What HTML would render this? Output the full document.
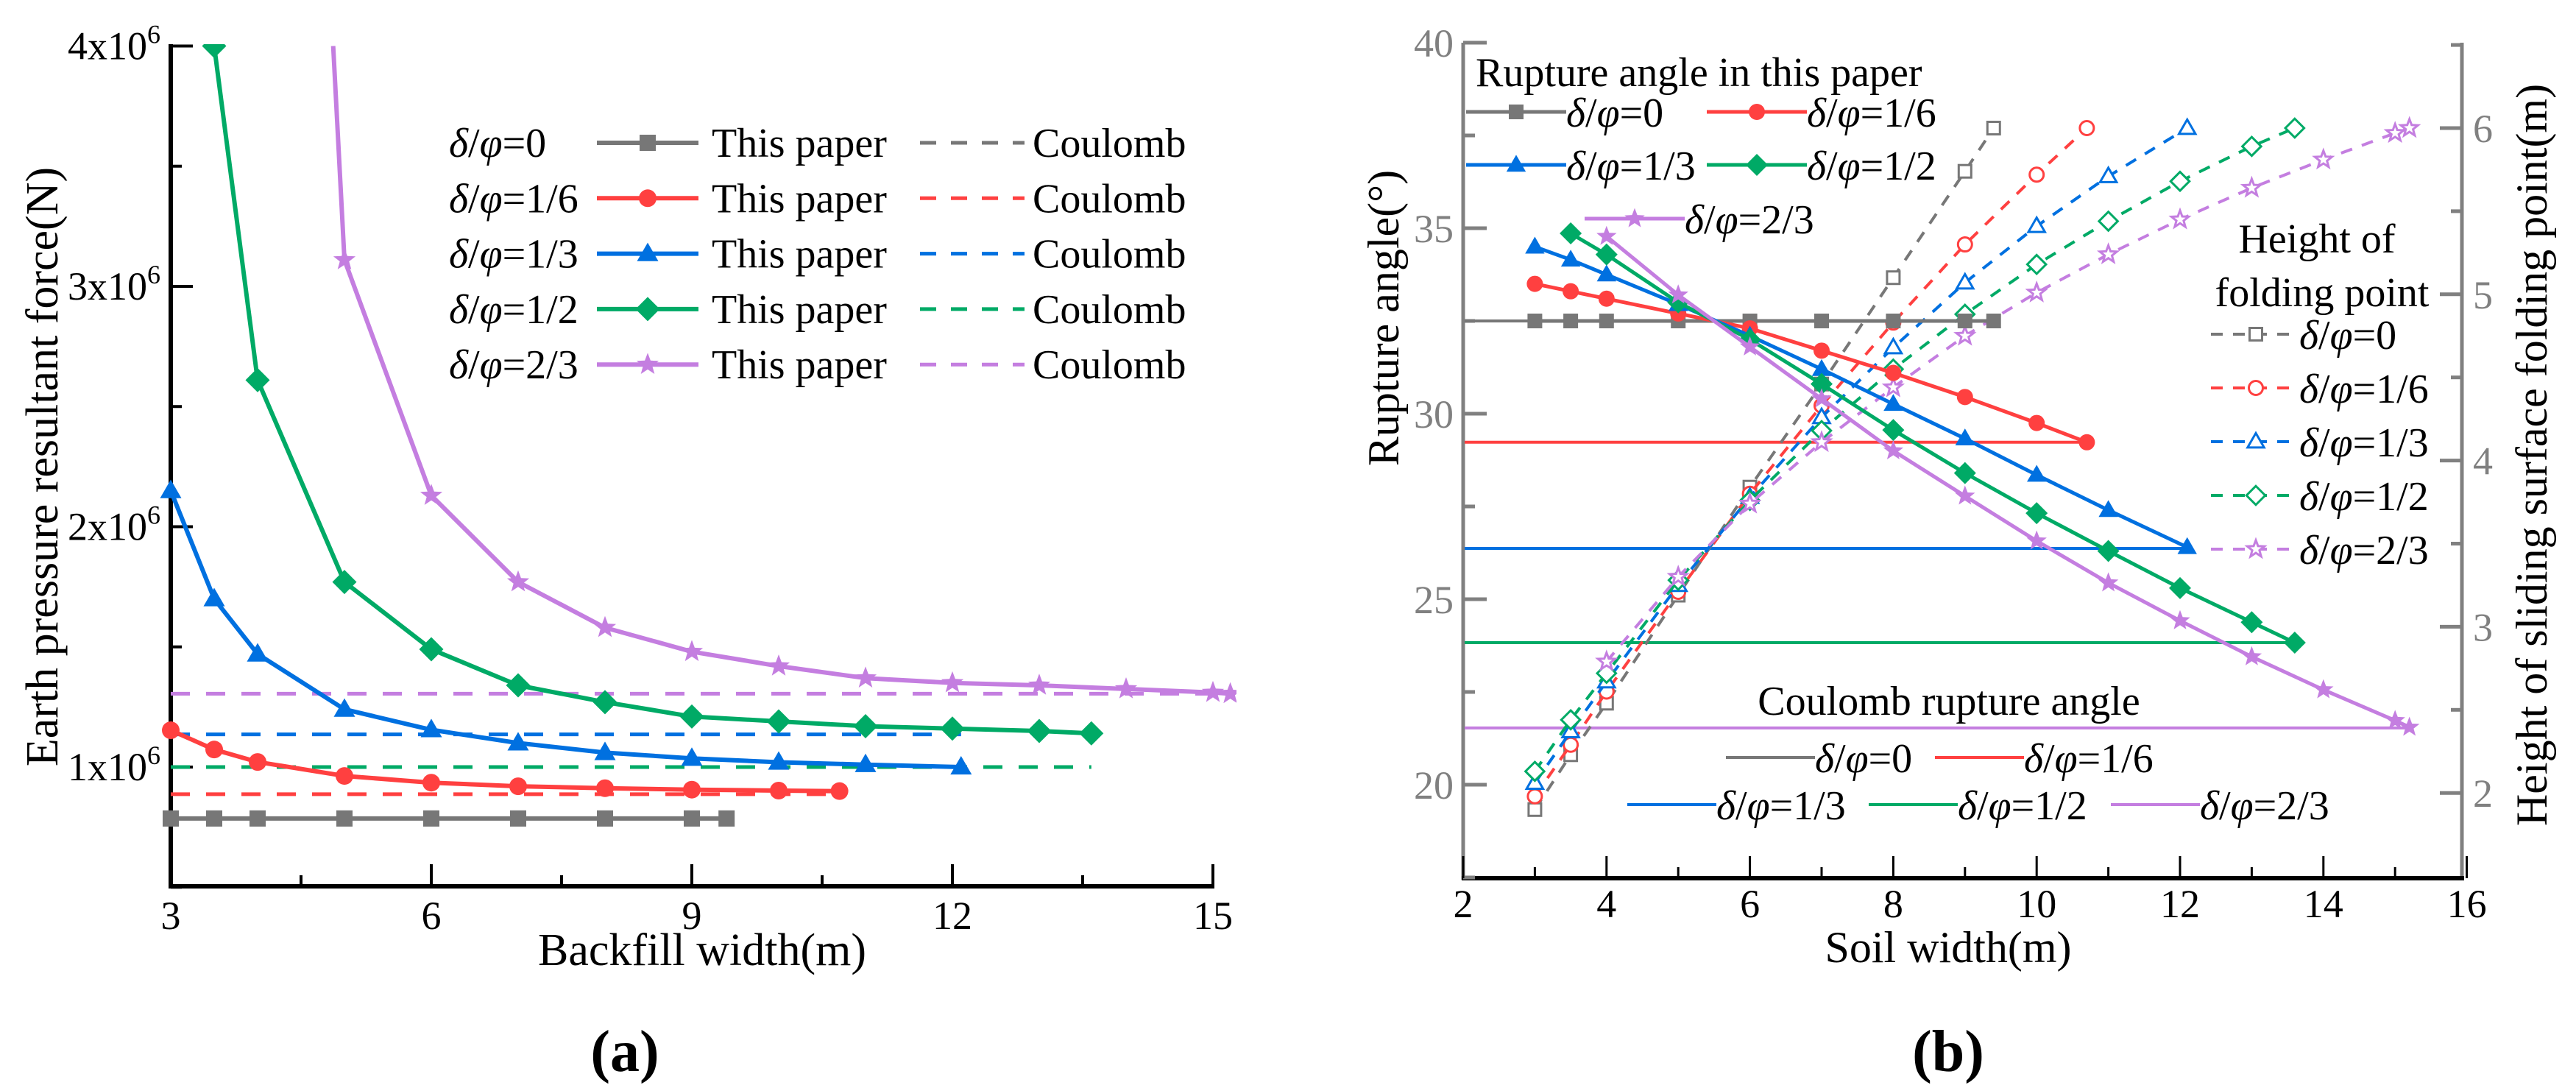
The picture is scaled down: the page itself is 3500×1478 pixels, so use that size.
<!DOCTYPE html>
<html><head><meta charset="utf-8"><style>
html,body{margin:0;padding:0;background:#fff;}
svg, svg text{font-family:"Liberation Serif","Times New Roman",serif;}
</style></head><body>
<svg id="fig" xmlns="http://www.w3.org/2000/svg" width="3500" height="1473" viewBox="0 0 3500 1473" font-family="'Liberation Serif', 'Times New Roman', serif">
<defs>
<clipPath id="clipA"><rect x="200" y="60" width="1480" height="1160"/></clipPath>
</defs>
<g id="chartA"></g>
<g id="chartB"></g>
<text x="849" y="1455" font-size="80" font-weight="bold" text-anchor="middle">(a)</text>
<text x="2647" y="1455" font-size="80" font-weight="bold" text-anchor="middle">(b)</text>
</svg>
<script>
// ---------- Chart A data ----------
const aNames = ["0", "1/6", "1/3", "1/2", "2/3"];
const aX0 = [3, 3.5, 4, 5, 6, 7, 8, 9, 9.4];
const aY0 = [0.786, 0.786, 0.786, 0.786, 0.786, 0.786, 0.786, 0.786, 0.786];
const aX1 = [3, 3.5, 4, 5, 6, 7, 8, 9, 10, 10.7];
const aY1 = [1.153, 1.073, 1.021, 0.963, 0.935, 0.92, 0.912, 0.906, 0.902, 0.9];
const aX2 = [3, 3.5, 4, 5, 6, 7, 8, 9, 10, 11, 12.1];
const aY2 = [2.15, 1.70, 1.47, 1.24, 1.155, 1.10, 1.06, 1.036, 1.02, 1.01, 1.0];
const aX3 = [3.5, 4, 5, 6, 7, 8, 9, 10, 11, 12, 13, 13.6];
const aY3 = [4.0, 2.61, 1.77, 1.49, 1.34, 1.27, 1.21, 1.19, 1.17, 1.16, 1.15, 1.14];
const aX4 = [4.87, 5, 6, 7, 8, 9, 10, 11, 12, 13, 14, 15, 15.2];
const aY4 = [4.0, 3.11, 2.13, 1.77, 1.58, 1.48, 1.42, 1.37, 1.35, 1.34, 1.325, 1.31, 1.305];
const aCoulomb = [0.786, 0.887, 1.136, 1.0, 1.305];
const aXTicks = [3, 6, 9, 12, 15];
const aYTicks = [1, 2, 3, 4];
// ---------- Chart B data ----------
const bX0 = [3, 3.5, 4, 5, 6, 7, 8, 9, 9.4];
const bA0 = [32.5, 32.5, 32.5, 32.5, 32.5, 32.5, 32.5, 32.5, 32.5];
const bH0 = [1.90, 2.23, 2.54, 3.19, 3.84, 4.46, 5.10, 5.74, 6.0];
const bX1 = [3, 3.5, 4, 5, 6, 7, 8, 9, 10, 10.7];
const bA1 = [33.5, 33.3, 33.1, 32.7, 32.3, 31.7, 31.1, 30.45, 29.75, 29.23];
const bH1 = [1.98, 2.29, 2.61, 3.21, 3.80, 4.33, 4.83, 5.30, 5.72, 6.0];
const bX2 = [3, 3.5, 4, 5, 6, 7, 8, 9, 10, 11, 12.1];
const bA2 = [34.5, 34.15, 33.75, 32.95, 32.1, 31.2, 30.26, 29.33, 28.35, 27.4, 26.4];
const bH2 = [2.06, 2.37, 2.67, 3.25, 3.78, 4.26, 4.68, 5.07, 5.41, 5.71, 6.0];
const bX3 = [3, 3.5, 4, 5, 6, 7, 8, 9, 10, 11, 12, 13, 13.6];
const bA3 = [null, 34.86, 34.29, 33.0, 32.0, 30.8, 29.56, 28.4, 27.32, 26.3, 25.3, 24.38, 23.83];
const bH3 = [2.13, 2.44, 2.72, 3.28, 3.76, 4.18, 4.55, 4.88, 5.18, 5.44, 5.68, 5.89, 6.0];
const bX4 = [4, 5, 6, 7, 8, 9, 10, 11, 12, 13, 14, 15, 15.2];
const bA4 = [34.78, 33.2, 31.8, 30.4, 29.0, 27.78, 26.57, 25.44, 24.42, 23.45, 22.56, 21.73, 21.55];
const bH4 = [2.79, 3.30, 3.74, 4.11, 4.44, 4.75, 5.01, 5.24, 5.45, 5.64, 5.81, 5.97, 6.0];
const bCoulomb = [32.5, 29.23, 26.37, 23.83, 21.53];
const bXTicks = [2, 4, 6, 8, 10, 12, 14, 16];
const bLTicks = [20, 25, 30, 35, 40];
const bRTicks = [2, 3, 4, 5, 6];

const colors = ["#777777", "#ff4040", "#0070e0", "#00aa66", "#c47ee0"];
const markers = ["square", "circle", "triangle", "diamond", "star"];
const NS = "http://www.w3.org/2000/svg";
function mk(parent, tag, attrs, txt) {
  const e = document.createElementNS(NS, tag);
  for (const k in attrs) e.setAttribute(k, attrs[k]);
  if (txt !== undefined) e.textContent = txt;
  parent.appendChild(e);
  return e;
}
function marker(g, type, cx, cy, s, color, filled) {
  const fill = filled ? color : "#fff";
  const sw = filled ? 0 : 3;
  let e;
  if (type === "square") e = mk(g, "rect", {x: cx - s/2, y: cy - s/2, width: s, height: s, fill: fill, stroke: color, "stroke-width": sw});
  else if (type === "circle") e = mk(g, "circle", {cx: cx, cy: cy, r: s/2 + 1, fill: fill, stroke: color, "stroke-width": sw});
  else if (type === "triangle") { const h = s * 1.1; e = mk(g, "polygon", {points: `${cx},${cy - h*0.62} ${cx + h*0.6},${cy + h*0.42} ${cx - h*0.6},${cy + h*0.42}`, fill: fill, stroke: color, "stroke-width": sw}); }
  else if (type === "diamond") { const h = s * 0.75; e = mk(g, "polygon", {points: `${cx},${cy - h} ${cx + h},${cy} ${cx},${cy + h} ${cx - h},${cy}`, fill: fill, stroke: color, "stroke-width": sw}); }
  else { let p = []; const R = s * 0.72, r = R * 0.42; for (let i = 0; i < 10; i++) { const a = -Math.PI/2 + i*Math.PI/5; const rr = i % 2 ? r : R; p.push((cx + rr*Math.cos(a)).toFixed(1) + "," + (cy + rr*Math.sin(a)).toFixed(1)); } e = mk(g, "polygon", {points: p.join(" "), fill: fill, stroke: color, "stroke-width": sw}); }
  
  
  return e;
}
function ratioLabel(g, x, y, val, size, anchor) {
  const t = mk(g, "text", {x: x, y: y, "font-size": size, "text-anchor": anchor || "start"});
  mk(t, "tspan", {"font-style": "italic"}, "δ");
  mk(t, "tspan", {}, "/");
  mk(t, "tspan", {"font-style": "italic"}, "φ");
  mk(t, "tspan", {}, "=" + val);
  return t;
}

// ================= CHART A =================
const A = document.getElementById("chartA");
const XA = v => 232 + (v - 3) * 118;
const YA = v => 1042 - (v - 1) * 326.5;
let ax = mk(A, "line", {x1: 232, y1: 60, x2: 232, y2: 1206, stroke: "#000", "stroke-width": 6});


ax = mk(A, "line", {x1: 229, y1: 1204, x2: 1650, y2: 1204, stroke: "#000", "stroke-width": 6});


for (let v = 0.5; v <= 4.01; v += 0.5) {
  const major = Math.abs(v - Math.round(v)) < 1e-6;
  const tk = mk(A, "line", {x1: 232, y1: YA(v), x2: 232 + (major ? 30 : 15), y2: YA(v), stroke: "#000", "stroke-width": 4});
  
  
}
for (let v = 3; v <= 15.01; v += 1.5) {
  const major = Math.abs((v - 3) % 3) < 1e-6;
  const tk = mk(A, "line", {x1: XA(v), y1: 1204, x2: XA(v), y2: 1204 - (major ? 30 : 15), stroke: "#000", "stroke-width": 4});
  
  
}
aYTicks.forEach(v => {
  const t = mk(A, "text", {x: 218, y: YA(v) + 18, "font-size": 54, "text-anchor": "end"});
  mk(t, "tspan", {}, v + "x10");
  mk(t, "tspan", {dy: -22, "font-size": 36}, "6");
  
  
});
aXTicks.forEach(v => {
  const t = mk(A, "text", {x: XA(v), y: 1262, "font-size": 54, "text-anchor": "middle"}, String(v));
  
  
});
let tt = mk(A, "text", {x: 954, y: 1311, "font-size": 62, "text-anchor": "middle"}, "Backfill width(m)");


tt = mk(A, "text", {x: 0, y: 0, "font-size": 62, "text-anchor": "middle", transform: "translate(78,634) rotate(-90)"}, "Earth pressure resultant force(N)");


const plotA = mk(A, "g", {"clip-path": "url(#clipA)"});


aCoulomb.forEach((v, i) => {
  const ends = [9.4, 10.7, 12.1, 13.6, 15.2];
  const l = mk(plotA, "line", {x1: XA(3), y1: YA(v), x2: XA(ends[i]), y2: YA(v), stroke: colors[i], "stroke-width": 5, "stroke-dasharray": "26,22"});
  
  
});
const aXs = [aX0, aX1, aX2, aX3, aX4], aYs = [aY0, aY1, aY2, aY3, aY4];
aXs.forEach((xs, i) => {
  const g = mk(plotA, "g", {});
  
  
  const pts = xs.map((x, j) => XA(x).toFixed(1) + "," + YA(aYs[i][j]).toFixed(1)).join(" ");
  const pl = mk(g, "polyline", {points: pts, fill: "none", stroke: colors[i], "stroke-width": 6, "stroke-linejoin": "round"});
  
  
  xs.forEach((x, j) => { if (!(i === 4 && j === 0)) marker(g, markers[i], XA(x), YA(aYs[i][j]), 22, colors[i], true); });
});
const legA = mk(A, "g", {});


aNames.forEach((n, i) => {
  const y = 194 + i * 75.3;
  const g = mk(legA, "g", {});
  
  
  ratioLabel(g, 610, y + 19, n, 56);
  mk(g, "line", {x1: 811, y1: y, x2: 949, y2: y, stroke: colors[i], "stroke-width": 6});
  marker(g, markers[i], 880, y, 22, colors[i], true);
  mk(g, "text", {x: 967, y: y + 19, "font-size": 56}, "This paper");
  mk(g, "line", {x1: 1250, y1: y, x2: 1392, y2: y, stroke: colors[i], "stroke-width": 5, "stroke-dasharray": "22,20"});
  mk(g, "text", {x: 1403, y: y + 19, "font-size": 56}, "Coulomb");
});

// ================= CHART B =================
const B = document.getElementById("chartB");
const XB = v => 1988 + (v - 2) * 97.4;
const YL = v => 58 + (40 - v) * 50.4;
const YR = v => 174 + (6 - v) * 225.8;
const gray = "#808080";
ax = mk(B, "line", {x1: 1988, y1: 58, x2: 1988, y2: 1195, stroke: gray, "stroke-width": 5});


ax = mk(B, "line", {x1: 3345, y1: 58, x2: 3345, y2: 1195, stroke: gray, "stroke-width": 5});


ax = mk(B, "line", {x1: 1986, y1: 1193, x2: 3348, y2: 1193, stroke: "#000", "stroke-width": 6});


for (let v = 17.5; v <= 40.01; v += 2.5) {
  const major = Math.abs(v % 5) < 1e-6;
  const tk = mk(B, "line", {x1: 1988, y1: YL(v), x2: 1988 + (major ? 32 : 16), y2: YL(v), stroke: gray, "stroke-width": 5});
  
  
}
for (let v = 2; v <= 6.51; v += 0.5) {
  const major = Math.abs(v - Math.round(v)) < 1e-6;
  const tk = mk(B, "line", {x1: 3345, y1: YR(v), x2: 3345 - (major ? 30 : 15), y2: YR(v), stroke: gray, "stroke-width": 5});
  
  
}
for (let v = 2; v <= 16; v += 1) {
  const major = v % 2 === 0;
  const tk = mk(B, "line", {x1: XB(v), y1: 1193, x2: XB(v), y2: 1193 - (major ? 30 : 15), stroke: "#000", "stroke-width": 3});
  
  
}
bXTicks.forEach(v => {
  const t = mk(B, "text", {x: XB(v), y: 1246, "font-size": 54, "text-anchor": "middle"}, String(v));
  
  
});
bLTicks.forEach(v => {
  const t = mk(B, "text", {x: 1975, y: YL(v) + 19, "font-size": 54, "text-anchor": "end", fill: gray}, String(v));
  
  
});
bRTicks.forEach(v => {
  const t = mk(B, "text", {x: 3360, y: YR(v) + 19, "font-size": 54, fill: gray}, String(v));
  
  
});
tt = mk(B, "text", {x: 2647, y: 1307, "font-size": 60, "text-anchor": "middle"}, "Soil width(m)");


tt = mk(B, "text", {x: 0, y: 0, "font-size": 60, "text-anchor": "middle", transform: "translate(1900,432) rotate(-90)"}, "Rupture angle(°)");


tt = mk(B, "text", {x: 0, y: 0, "font-size": 60, "text-anchor": "middle", transform: "translate(3460,618) rotate(-90)"}, "Height of sliding surface folding point(m)");


const bEnds = [9.4, 10.7, 12.1, 13.6, 15.2];
bCoulomb.forEach((v, i) => {
  const l = mk(B, "line", {x1: 1990, y1: YL(v), x2: XB(bEnds[i]), y2: YL(v), stroke: colors[i], "stroke-width": 4});
  
  
});
const bXs = [bX0, bX1, bX2, bX3, bX4], bAs = [bA0, bA1, bA2, bA3, bA4], bHs = [bH0, bH1, bH2, bH3, bH4];
bXs.forEach((xs, i) => {
  const g = mk(B, "g", {});
  
  
  const pts = xs.map((x, j) => XB(x).toFixed(1) + "," + YR(bHs[i][j]).toFixed(1)).join(" ");
  const pl = mk(g, "polyline", {points: pts, fill: "none", stroke: colors[i], "stroke-width": 4, "stroke-dasharray": "16,14"});
  
  
  xs.forEach((x, j) => marker(g, markers[i], XB(x), YR(bHs[i][j]), 17, colors[i], false));
});
bXs.forEach((xs, i) => {
  const g = mk(B, "g", {});
  
  
  const valid = xs.map((x, j) => [x, bAs[i][j]]).filter(p => p[1] !== null);
  const pts = valid.map(p => XB(p[0]).toFixed(1) + "," + YL(p[1]).toFixed(1)).join(" ");
  const pl = mk(g, "polyline", {points: pts, fill: "none", stroke: colors[i], "stroke-width": 5, "stroke-linejoin": "round"});
  
  
  valid.forEach(p => marker(g, markers[i], XB(p[0]), YL(p[1]), 20, colors[i], true));
});
const legB1 = mk(B, "g", {});


mk(legB1, "text", {x: 2005, y: 117, "font-size": 56}, "Rupture angle in this paper");
const lb1 = [[1992, 152], [2319, 152], [1992, 224], [2319, 224], [2153, 297]];
lb1.forEach((p, i) => {
  const g = mk(legB1, "g", {});
  
  
  mk(g, "line", {x1: p[0], y1: p[1], x2: p[0] + 136, y2: p[1], stroke: colors[i], "stroke-width": 5});
  marker(g, markers[i], p[0] + 68, p[1], 20, colors[i], true);
  ratioLabel(g, p[0] + 136, p[1] + 20, aNames[i], 56);
});
const legB2 = mk(B, "g", {});


mk(legB2, "text", {x: 3148, y: 343, "font-size": 56, "text-anchor": "middle"}, "Height of");
mk(legB2, "text", {x: 3155, y: 416, "font-size": 56, "text-anchor": "middle"}, "folding point");
aNames.forEach((n, i) => {
  const y = 454 + i * 73;
  const g = mk(legB2, "g", {});
  
  
  mk(g, "line", {x1: 3004, y1: y, x2: 3113, y2: y, stroke: colors[i], "stroke-width": 4, "stroke-dasharray": "16,14"});
  marker(g, markers[i], 3065, y, 17, colors[i], false);
  ratioLabel(g, 3124, y + 20, n, 56);
});
const legB3 = mk(B, "g", {});


mk(legB3, "text", {x: 2648, y: 971, "font-size": 56, "text-anchor": "middle"}, "Coulomb rupture angle");
const lb3 = [[2345, 1029], [2629, 1029], [2211, 1093], [2539, 1093], [2868, 1093]];
lb3.forEach((p, i) => {
  const g = mk(legB3, "g", {});
  
  
  mk(g, "line", {x1: p[0], y1: p[1], x2: p[0] + 121, y2: p[1], stroke: colors[i], "stroke-width": 4});
  ratioLabel(g, p[0] + 121, p[1] + 20, aNames[i], 56);
});
</script>
</body></html>
